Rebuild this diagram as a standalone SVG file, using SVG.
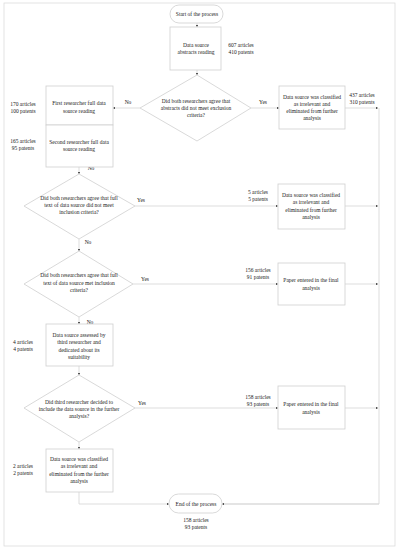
<svg xmlns="http://www.w3.org/2000/svg" width="400" height="550" viewBox="0 0 400 550">
<defs>
<marker id="ah" viewBox="0 0 10 10" refX="10" refY="5" markerWidth="3" markerHeight="3" orient="auto"><path d="M0,0 L10,5 L0,10 z" fill="#222"/></marker>
</defs>
<style>
.s{fill:#fff;stroke:#cfcfcf;stroke-width:0.8}
.c{fill:none;stroke:#d4d4d4;stroke-width:0.8}
.a{fill:none;stroke:#d4d4d4;stroke-width:0.8;marker-end:url(#ah)}
text{font-family:"Liberation Serif","Times New Roman",serif;font-size:5.5px;fill:#222;text-anchor:middle}
</style>
<rect x="0" y="0" width="400" height="550" fill="#fff"/>
<rect x="4" y="3" width="391" height="543" fill="none" stroke="#dcdcdc" stroke-width="0.8"/>
<g id="connectors">
<path class="a" d="M197,23 L197,27"/>
<path class="a" d="M197,70 L197,75"/>
<path class="a" d="M251,108 L279,108"/>
<path class="a" d="M140,108 L113,108"/>
<path class="a" d="M345,108 L378,108"/>
<path class="c" d="M379,108 L379,504 L224,504"/>
<path class="a" d="M379,504 L222,504"/>
<path class="a" d="M79,126 L79,128"/>
<path class="a" d="M79,167 L79,174"/>
<path class="a" d="M135,206 L278,206"/>
<path class="a" d="M345,206 L378,206"/>
<path class="a" d="M79,239 L79,251"/>
<path class="a" d="M133,284 L278,284"/>
<path class="a" d="M345,284 L378,284"/>
<path class="a" d="M79,317 L79,324"/>
<path class="a" d="M79,366 L79,375"/>
<path class="a" d="M135,408 L278,408"/>
<path class="a" d="M345,408 L378,408"/>
<path class="a" d="M79,442 L79,449"/>
<path class="a" d="M79,492 L79,504 L169,504"/>
<text x="128" y="104">No</text>
<text x="263" y="104">Yes</text>
<text x="91" y="170">No</text>
<text x="141" y="202">Yes</text>
<text x="88" y="244">No</text>
<text x="145" y="281">Yes</text>
<text x="90" y="324">No</text>
<text x="142" y="405">Yes</text>
</g>
<g id="start">
<rect class="s" x="170" y="5" width="53" height="18" rx="9"/>
<text x="197" y="16">Start of the process</text>
</g>
<g id="abstracts">
<rect class="s" x="170" y="27" width="51" height="43"/>
<text x="196" y="47">Data source</text>
<text x="196" y="54">abstracts reading</text>
<text x="241" y="47">607 articles</text>
<text x="241" y="54">410 patents</text>
</g>
<g id="d1">
<polygon class="s" points="197,75 251,108 197,141 140,108"/>
<text x="196" y="103">Did both researchers agree that</text>
<text x="196" y="110">abstracts did not meet exclusion</text>
<text x="196" y="117">criteria?</text>
</g>
<g id="irr1">
<rect class="s" x="279" y="86" width="66" height="43"/>
<text x="312" y="99">Data source was classified</text>
<text x="312" y="106">as irrelevant and</text>
<text x="312" y="113">eliminated from further</text>
<text x="312" y="120">analysis</text>
<text x="362" y="97">437 articles</text>
<text x="362" y="104">310 patents</text>
</g>
<g id="first">
<rect class="s" x="46" y="86" width="67" height="39"/>
<text x="79" y="105">First researcher full data</text>
<text x="79" y="113">source reading</text>
<text x="23" y="106">170 articles</text>
<text x="23" y="113">100 patents</text>
</g>
<g id="second">
<rect class="s" x="46" y="125" width="67" height="42"/>
<text x="79" y="144">Second researcher full data</text>
<text x="79" y="151">source reading</text>
<text x="23" y="143">165 articles</text>
<text x="23" y="150">95 patents</text>
</g>
<g id="d2">
<polygon class="s" points="79,174 135,206 79,239 24,206"/>
<text x="79" y="200">Did both researchers agree that full</text>
<text x="79" y="207">text of data source did not meet</text>
<text x="79" y="214">inclusion criteria?</text>
</g>
<g id="irr2">
<rect class="s" x="278" y="184" width="67" height="45"/>
<text x="311" y="197">Data source was classified</text>
<text x="311" y="204">as irrelevant and</text>
<text x="311" y="212">eliminated from further</text>
<text x="311" y="219">analysis</text>
<text x="258" y="194">5 articles</text>
<text x="258" y="201">5 patents</text>
</g>
<g id="d3">
<polygon class="s" points="79,251 133,284 79,317 24,284"/>
<text x="79" y="277">Did both researchers agree that full</text>
<text x="79" y="285">text of data source met inclusion</text>
<text x="79" y="292">criteria?</text>
</g>
<g id="final1">
<rect class="s" x="278" y="263" width="67" height="42"/>
<text x="311" y="282">Paper entered in the final</text>
<text x="311" y="290">analysis</text>
<text x="258" y="272">156 articles</text>
<text x="258" y="279">91 patents</text>
</g>
<g id="third">
<rect class="s" x="46" y="324" width="67" height="42"/>
<text x="79" y="337">Data source assessed by</text>
<text x="79" y="344">third researcher and</text>
<text x="79" y="352">dedicated about its</text>
<text x="79" y="359">suitability</text>
<text x="23" y="344">4 articles</text>
<text x="23" y="351">4 patents</text>
</g>
<g id="d4">
<polygon class="s" points="79,375 135,408 79,442 24,408"/>
<text x="79" y="404">Did third researcher decided to</text>
<text x="79" y="411">include the data source in the further</text>
<text x="79" y="418">analysis?</text>
</g>
<g id="final2">
<rect class="s" x="278" y="386" width="67" height="43"/>
<text x="311" y="406">Paper entered in the final</text>
<text x="311" y="414">analysis</text>
<text x="258" y="399">158 articles</text>
<text x="258" y="406">93 patents</text>
</g>
<g id="irr3">
<rect class="s" x="46" y="449" width="67" height="43"/>
<text x="79" y="461">Data source was classified</text>
<text x="79" y="468">as irrelevant and</text>
<text x="79" y="476">eliminated from the further</text>
<text x="79" y="483">analysis</text>
<text x="23" y="468">2 articles</text>
<text x="23" y="475">2 patents</text>
</g>
<g id="end">
<rect class="s" x="169" y="494" width="53" height="19" rx="9.5"/>
<text x="196" y="506">End of the process</text>
<text x="196" y="522">158 articles</text>
<text x="196" y="529">93 patents</text>
</g>
</svg>
